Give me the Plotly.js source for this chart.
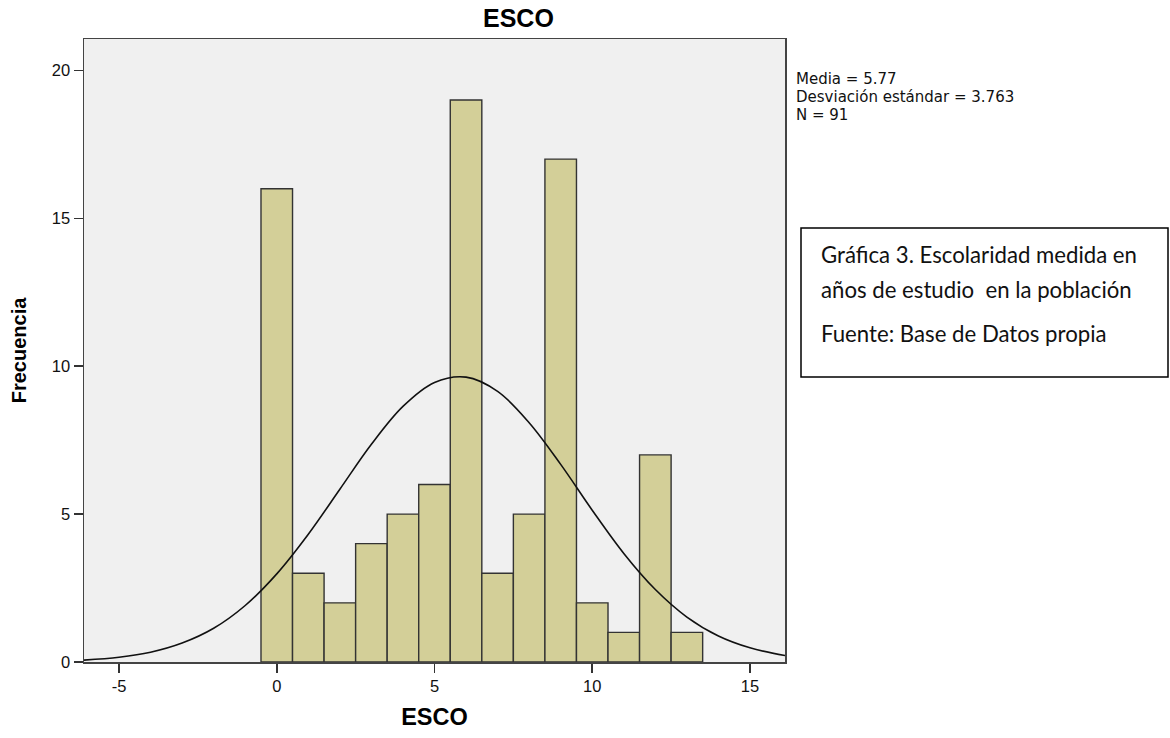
<!DOCTYPE html>
<html>
<head>
<meta charset="utf-8">
<script src="https://cdn.plot.ly/plotly-3.0.1.min.js"></script>
<style>html,body{margin:0;padding:0;background:#fff;}#chart{width:1170px;height:738px;}</style>
</head>
<body>
<div id="chart"></div>
<script>
// Histogram bins (years of schooling) and frequencies
const binCenters = [0, 1, 2, 3, 4, 5, 6, 7, 8, 9, 10, 11, 12, 13];
const frequencies = [16, 3, 2, 4, 5, 6, 19, 3, 5, 17, 2, 1, 7, 1];

// Normal curve
const curveX = [-6.11, -5, -4, -3, -2, -1, 0, 1, 2, 3, 4, 5, 6, 7, 8, 9, 10, 11, 12, 13, 14, 15, 16.11];
const curveY = [0.065, 0.16, 0.33, 0.64, 1.14, 1.91, 2.98, 4.32, 5.84, 7.36, 8.64, 9.45, 9.63, 9.15, 8.09, 6.68, 5.13, 3.67, 2.45, 1.52, 0.88, 0.48, 0.22];

const statLines = ["Media = 5.77", "Desviación estándar = 3.763", "N = 91"];
const noteLines = ["Gráfica 3. Escolaridad medida en", "años de estudio  en la población", "Fuente: Base de Datos propia"];

const xTicks = [-5, 0, 5, 10, 15];
const yTicks = [0, 5, 10, 15, 20];

const L = 84, R = 785, T = 39, B = 662;
const W = 1170, H = 738;
const pw = R - L, ph = B - T;
const px = v => (v - L) / pw;
const py = v => (B - v) / ph;

const traces = [
  {
    type: 'bar', x: binCenters, y: frequencies, width: 1,
    marker: {color: '#d3cf98', line: {color: '#333333', width: 1.4}},
    hoverinfo: 'x+y', showlegend: false
  },
  {
    type: 'scatter', mode: 'lines', x: curveX, y: curveY,
    line: {color: '#111111', width: 1.6, shape: 'spline', smoothing: 1},
    hoverinfo: 'skip', showlegend: false
  }
];

const annotations = [];
const statY = [79, 97, 115];
statLines.forEach((t, i) => annotations.push({
  xref: 'paper', yref: 'paper', x: px(795), y: py(statY[i]), xanchor: 'left', yanchor: 'middle',
  text: t, showarrow: false, borderpad: 0,
  font: {family: 'DejaVu Sans, Liberation Sans, Arial, sans-serif', size: 15, color: '#111'}
}));
const noteY = [255, 289, 333];
noteLines.forEach((t, i) => annotations.push({
  xref: 'paper', yref: 'paper', x: px(819), y: py(noteY[i]), xanchor: 'left', yanchor: 'middle',
  text: t, showarrow: false, font: {family: 'Lato, Carlito, Calibri, sans-serif', size: 22.2, color: '#111'}
}));
annotations.push({
  xref: 'paper', yref: 'paper', x: px(518), y: py(18), xanchor: 'center', yanchor: 'middle',
  text: '<b>ESCO</b>', showarrow: false, font: {family: 'Liberation Sans, Arial, sans-serif', size: 25, color: '#000'}
});

const layout = {
  width: W, height: H,
  margin: {l: L, r: W - R, t: T, b: H - B, pad: 0},
  paper_bgcolor: '#ffffff', plot_bgcolor: '#f0f0f0',
  font: {family: 'Liberation Sans, Arial, sans-serif', size: 13, color: '#111'},
  bargap: 0,
  xaxis: {
    range: [-6.11, 16.11], tickvals: xTicks, ticktext: xTicks.map(String),
    ticks: 'outside', ticklen: 9, tickwidth: 1.5, tickcolor: '#333',
    showline: true, linecolor: '#444', linewidth: 1.5, mirror: true,
    showgrid: false, zeroline: false,
    tickfont: {size: 16.5, color: '#111'},
    title: {text: '<b>ESCO</b>', font: {size: 23.5, color: '#000'}, standoff: 14}
  },
  yaxis: {
    range: [0, 21.06], tickvals: yTicks, ticktext: yTicks.map(String),
    ticks: 'outside', ticklen: 9, tickwidth: 1.5, tickcolor: '#333',
    showline: true, linecolor: '#444', linewidth: 1.5, mirror: true,
    showgrid: false, zeroline: false,
    tickfont: {size: 16.5, color: '#111'},
    title: {text: '<b>Frecuencia</b>', font: {size: 20, color: '#000'}, standoff: 20}
  },
  shapes: [{
    type: 'rect', xref: 'paper', yref: 'paper',
    x0: px(801), x1: px(1168), y0: py(377), y1: py(228),
    line: {color: '#000', width: 1.5}, fillcolor: 'rgba(0,0,0,0)'
  }],
  annotations: annotations,
  showlegend: false
};

Plotly.newPlot('chart', traces, layout, {displayModeBar: false, staticPlot: true});
</script>
</body>
</html>
